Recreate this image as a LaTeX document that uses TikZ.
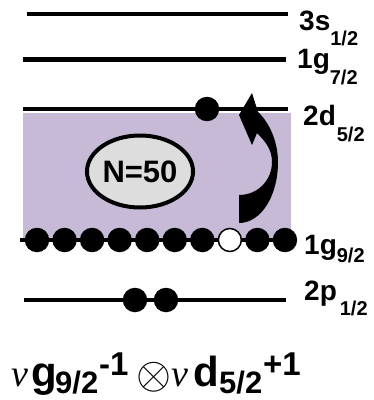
\documentclass[tikz,border=0pt]{standalone}
\usepackage{fontspec}
\usepackage{graphicx}
\setmainfont{Liberation Sans}
\newfontfamily\greekserif{Liberation Serif}
\usetikzlibrary{shapes.geometric}
\definecolor{corefill}{RGB}{198,186,214}
\definecolor{magicfill}{RGB}{221,221,221}
% orbital label: main part, subscript, lowering of the subscript, gap before it
\newcommand\orblabel[4]{#1\hspace{#4pt}\raisebox{-#3pt}{\fontsize{20}{20}\selectfont #2}}
\begin{document}
\begin{tikzpicture}[x=1pt,y=-1pt,
  level/.style={line width=4.5pt},
  particle/.style={circle,fill=black,inner sep=0pt,minimum size=24.5pt},
  hole/.style={circle,draw=black,line width=1.5pt,fill=white,inner sep=0pt,minimum size=23pt},
  orbit/.style={anchor=base west,inner sep=0pt,font=\bfseries\fontsize{28}{28}\selectfont},
  conf/.style={anchor=base west,inner sep=0pt},
  confbig/.style={conf,font=\bfseries\fontsize{42}{42}\selectfont},
  confsub/.style={conf,font=\bfseries\fontsize{31}{31}\selectfont},
  confsup/.style={conf,font=\bfseries\fontsize{33}{33}\selectfont},
  confnu/.style={conf,font=\greekserif\itshape\fontsize{38}{38}\selectfont}]
\useasboundingbox (0,0) rectangle (374,400);

% filled core below the N=50 gap
\fill[corefill] (23,113) rectangle (291,240);

% single-particle levels
\coordinate (s3l) at (27,14);  \coordinate (s3r) at (288,14);
\coordinate (g7l) at (23,59.5); \coordinate (g7r) at (286,59.5);
\coordinate (d5l) at (23,109); \coordinate (d5r) at (288,109);
\coordinate (g9l) at (20,240); \coordinate (g9r) at (290,240);
\coordinate (p1l) at (24,300); \coordinate (p1r) at (286,300);
\draw[level] (s3l) -- (s3r);
\draw[level] (g7l) -- (g7r);
\draw[level] (d5l) -- (d5r);
\draw[level] (g9l) -- (g9r);
\draw[level] (p1l) -- (p1r);

% occupations
\node[particle] (d5a) at (207,109) {};
\foreach \i in {0,...,9}{
  \ifnum\i=7
    \node[hole] (g9\i) at ({37+27.55*\i},240) {};
  \else
    \node[particle] (g9\i) at ({37+27.55*\i},240) {};
  \fi
}
\node[particle] (p1a) at (135,300) {};
\node[particle] (p1b) at (166,300) {};

% shell closure marker
\node[ellipse,draw=black,line width=4pt,fill=magicfill,inner sep=0pt,
      minimum width=89pt,minimum height=72pt,
      font=\bfseries\fontsize{31}{31}\selectfont] (n50) at (140,171.5) {N=50};

% excitation arrow g9/2 -> d5/2
\fill[black] (239,223) .. controls (261,223) and (278,196) .. (278,162)
  .. controls (278,140) and (268,121) .. (258,112)
  -- (252,93) -- (239,115) -- (252,145) -- (257,133)
  .. controls (266,142) and (272,150) .. (272,162)
  .. controls (272,180) and (258,195) .. (239,195) -- cycle;

% orbital labels
\node[orbit] (l3s) at (299,30)  {\orblabel{3s}{1/2}{15}{0}};
\node[orbit] (l1g7) at (297,68) {\orblabel{1g}{7/2}{16}{0}};
\node[orbit] (l2d) at (303,125) {\orblabel{2d}{5/2}{16}{1}};
\node[orbit] (l1g9) at (304,254) {\orblabel{1g}{9/2}{8}{0}};
\node[orbit] (l2p) at (304,300) {\orblabel{2p}{1/2}{15}{3}};

% configuration  nu g9/2^-1 (x) nu d5/2^+1
\node[confnu]  (nua)  at (11,386) {ν};
\node[confbig] (gorb) at (31,386) {g};
\node[confsub] (gsub) at (55,393) {9/2};
\node[confsup] (gsup) at (99,375) {-1};
\node[inner sep=0pt] (otim) at (154,377) {\scalebox{4.5}{$\otimes$}};
\node[confnu]  (nub)  at (171,386) {ν};
\node[confbig] (dorb) at (193,386) {d};
\node[confsub] (dsub) at (219,393) {5/2};
\node[confsup] (dsup) at (263,375) {+1};
\end{tikzpicture}
\end{document}
